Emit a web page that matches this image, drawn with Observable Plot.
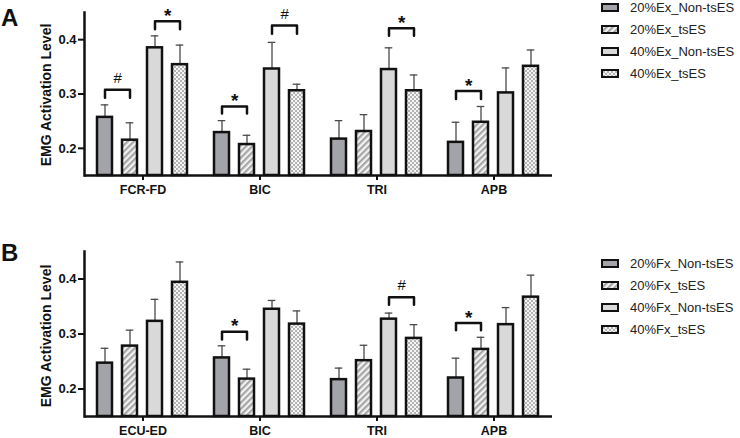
<!DOCTYPE html>
<html><head><meta charset="utf-8">
<script src="https://cdn.jsdelivr.net/npm/d3@7"></script>
<script src="https://cdn.jsdelivr.net/npm/@observablehq/plot@0.6"></script>
<style>
body{margin:0;background:#fff;font-family:"Liberation Sans",Arial,sans-serif;}
#root{position:relative;width:740px;height:438px;overflow:hidden;background:#fff;}
.panel{position:absolute;left:0;}
.letter{position:absolute;left:1px;font-weight:bold;font-size:24px;line-height:1;color:#111;}
.ytitle{position:absolute;font-weight:bold;font-size:14px;color:#111;white-space:nowrap;transform:translate(-50%,-50%) rotate(-90deg);line-height:1;}
.legend{position:absolute;left:601px;font-size:13px;color:#222;}
.legend .row{display:flex;align-items:center;height:22px;}
.legend svg{margin-right:11px;display:block;}
</style></head><body>
<svg width="0" height="0" style="position:absolute">
<defs>
<pattern id="hatch" patternUnits="userSpaceOnUse" width="4.4" height="4.4" patternTransform="rotate(45)">
<rect width="4.4" height="4.4" fill="#f3f3f3"/><rect width="2.2" height="4.4" fill="#a6a6a6"/>
</pattern>
<pattern id="check" patternUnits="userSpaceOnUse" width="4" height="4">
<rect width="4" height="4" fill="#f5f5f5"/><rect width="2" height="2" fill="#b3b3b3"/><rect x="2" y="2" width="2" height="2" fill="#b3b3b3"/>
</pattern>
</defs></svg>
<div id="root"></div>
<script>
// ---- data ----
const seriesKeys = ["20_Non", "20_ts", "40_Non", "40_ts"];
const seriesFill = ["#a3a3aa", "url(#hatch)", "#d9d9d9", "url(#check)"];
const legendA = ["20%Ex_Non-tsES", "20%Ex_tsES", "40%Ex_Non-tsES", "40%Ex_tsES"];
const legendB = ["20%Fx_Non-tsES", "20%Fx_tsES", "40%Fx_Non-tsES", "40%Fx_tsES"];
const yTitle = "EMG Activation Level";
const yTicks = [0.2, 0.3, 0.4];
const yDomain = [0.15, 0.45];

// Panel A (extension)
const catsA = ["FCR-FD", "BIC", "TRI", "APB"];
const meanA_20Non = [0.257, 0.229, 0.217, 0.211];
const sdA_20Non   = [0.023, 0.022, 0.034, 0.037];
const meanA_20ts  = [0.215, 0.207, 0.231, 0.248];
const sdA_20ts    = [0.032, 0.017, 0.031, 0.029];
const meanA_40Non = [0.385, 0.346, 0.345, 0.302];
const sdA_40Non   = [0.022, 0.049, 0.040, 0.046];
const meanA_40ts  = [0.354, 0.306, 0.306, 0.351];
const sdA_40ts    = [0.036, 0.012, 0.029, 0.030];
// significance brackets A: category, left bar, right bar, top, leg bottom, symbol
const brCatA  = ["FCR-FD", "FCR-FD", "BIC", "BIC", "TRI", "APB"];
const brFromA = ["20_Non", "40_Non", "20_Non", "40_Non", "40_Non", "20_Non"];
const brToA   = ["20_ts", "40_ts", "20_ts", "40_ts", "40_ts", "20_ts"];
const brTopA  = [0.308, 0.434, 0.277, 0.426, 0.421, 0.3055];
const brLegA  = [0.293, 0.419, 0.264, 0.411, 0.407, 0.291];
const brSymA  = ["#", "*", "*", "#", "*", "*"];

// Panel B (flexion)
const catsB = ["ECU-ED", "BIC", "TRI", "APB"];
const meanB_20Non = [0.247, 0.2565, 0.217, 0.220];
const sdB_20Non   = [0.027, 0.022, 0.021, 0.036];
const meanB_20ts  = [0.278, 0.218, 0.2515, 0.272];
const sdB_20ts    = [0.029, 0.018, 0.028, 0.022];
const meanB_40Non = [0.323, 0.345, 0.327, 0.317];
const sdB_40Non   = [0.040, 0.016, 0.011, 0.031];
const meanB_40ts  = [0.394, 0.318, 0.292, 0.367];
const sdB_40ts    = [0.037, 0.024, 0.025, 0.040];
const brCatB  = ["BIC", "TRI", "APB"];
const brFromB = ["20_Non", "40_Non", "20_Non"];
const brToB   = ["20_ts", "40_ts", "20_ts"];
const brTopB  = [0.304, 0.367, 0.320];
const brLegB  = [0.290, 0.353, 0.307];
const brSymB  = ["*", "#", "*"];

// ---- build ----
function rows(cats, means, sds) {
  const out = [];
  cats.forEach((c, i) => seriesKeys.forEach((k, j) => out.push({cat: c, key: k, mean: means[j][i], sd: sds[j][i]})));
  return out;
}
function bracketPts(cat, from, to, top, leg) {
  const pts = [];
  cat.forEach((c, i) => {
    pts.push({id: i, cat: c, key: from[i], v: leg[i]});
    pts.push({id: i, cat: c, key: from[i], v: top[i]});
    pts.push({id: i, cat: c, key: to[i], v: top[i]});
    pts.push({id: i, cat: c, key: to[i], v: leg[i]});
  });
  return pts;
}
function bracketLabels(cat, from, top, sym) {
  return cat.map((c, i) => ({cat: c, key: from[i], v: top[i], sym: sym[i]}));
}

function panel(cats, data, brPts, brLab, opts) {
  const chart = Plot.plot({
    width: 560, height: opts.height,
    marginLeft: 84, marginRight: 8, marginTop: opts.mt, marginBottom: opts.mb,
    style: {fontFamily: "'Liberation Sans', Arial, sans-serif", color: "#111", background: "transparent", overflow: "visible"},
    fx: {domain: cats, paddingInner: 0, paddingOuter: 0, label: null},
    x: {domain: seriesKeys, paddingInner: 0.39, paddingOuter: 0.5, axis: null},
    y: {domain: yDomain, label: null},
    color: {type: "ordinal", domain: seriesKeys, range: seriesFill},
    marks: [
      Plot.ruleX(data, {fx: "cat", x: "key", y1: "mean", y2: d => d.mean + d.sd, stroke: "#4a4a4a", strokeWidth: 1.3}),
      Plot.tickY(data, {fx: "cat", x: "key", y: d => d.mean + d.sd, stroke: "#4a4a4a", strokeWidth: 1.3, insetLeft: 3.7, insetRight: 3.7}),
      Plot.barY(data, {fx: "cat", x: "key", y1: yDomain[0], y2: "mean", fill: "key", stroke: "#111", strokeWidth: 2.5}),
      Plot.line(brPts, {fx: "cat", x: "key", y: "v", z: "id", stroke: "#111", strokeWidth: 2.5}),
      Plot.text(brLab.filter(d => d.sym === "*"), {fx: "cat", x: "key", y: "v", text: "sym", dx: 12.7, dy: -5.5, fontSize: 19, fontWeight: "bold", fill: "#111"}),
      Plot.text(brLab.filter(d => d.sym === "#"), {fx: "cat", x: "key", y: "v", text: "sym", dx: 12.7, dy: -11.5, fontSize: 15, fill: "#111"}),
      Plot.ruleY([yDomain[0]], {stroke: "#111", strokeWidth: 2.5}),
      Plot.frame({anchor: "left", facetAnchor: "left", stroke: "#111", strokeWidth: 2.5}),
      Plot.axisY({ticks: yTicks, tickFormat: d3.format(".1f"), tickSize: 6, tickPadding: 2, strokeWidth: 2, fontSize: 13, fontWeight: "bold", label: null}),
      Plot.axisFx({anchor: "bottom", tickSize: 5, tickPadding: 5, strokeWidth: 2, fontSize: 12.5, fontWeight: "bold", label: null})
    ]
  });
  return chart;
}

function legend(labels, top) {
  const div = document.createElement("div");
  div.className = "legend";
  div.style.top = top + "px";
  labels.forEach((t, j) => {
    const row = document.createElement("div");
    row.className = "row";
    row.innerHTML = `<svg width="18" height="9"><rect x="1" y="1" width="16" height="7" fill="${seriesFill[j]}" stroke="#111" stroke-width="2"/></svg><span>${t}</span>`;
    div.appendChild(row);
  });
  return div;
}
function addDiv(cls, text, left, top) {
  const d = document.createElement("div");
  d.className = cls; d.textContent = text;
  if (left !== null) d.style.left = left + "px";
  d.style.top = top + "px";
  root.appendChild(d);
}

const root = document.getElementById("root");
const dataA = rows(catsA, [meanA_20Non, meanA_20ts, meanA_40Non, meanA_40ts], [sdA_20Non, sdA_20ts, sdA_40Non, sdA_40ts]);
const dataB = rows(catsB, [meanB_20Non, meanB_20ts, meanB_40Non, meanB_40ts], [sdB_20Non, sdB_20ts, sdB_40Non, sdB_40ts]);

const chartA = panel(catsA, dataA, bracketPts(brCatA, brFromA, brToA, brTopA, brLegA), bracketLabels(brCatA, brFromA, brTopA, brSymA), {height: 200, mt: 12, mb: 25});
chartA.classList.add("panel"); chartA.style.top = "0px";
const chartB = panel(catsB, dataB, bracketPts(brCatB, brFromB, brToB, brTopB, brLegB), bracketLabels(brCatB, brFromB, brTopB, brSymB), {height: 218, mt: 31, mb: 22});
chartB.classList.add("panel"); chartB.style.top = "220px";
root.appendChild(chartA);
root.appendChild(chartB);
root.appendChild(legend(legendA, -4));
root.appendChild(legend(legendB, 252));
addDiv("letter", "A", null, 6);
addDiv("letter", "B", null, 241);
addDiv("ytitle", yTitle, 46, 95);
addDiv("ytitle", yTitle, 46, 336);
</script>
</body></html>
